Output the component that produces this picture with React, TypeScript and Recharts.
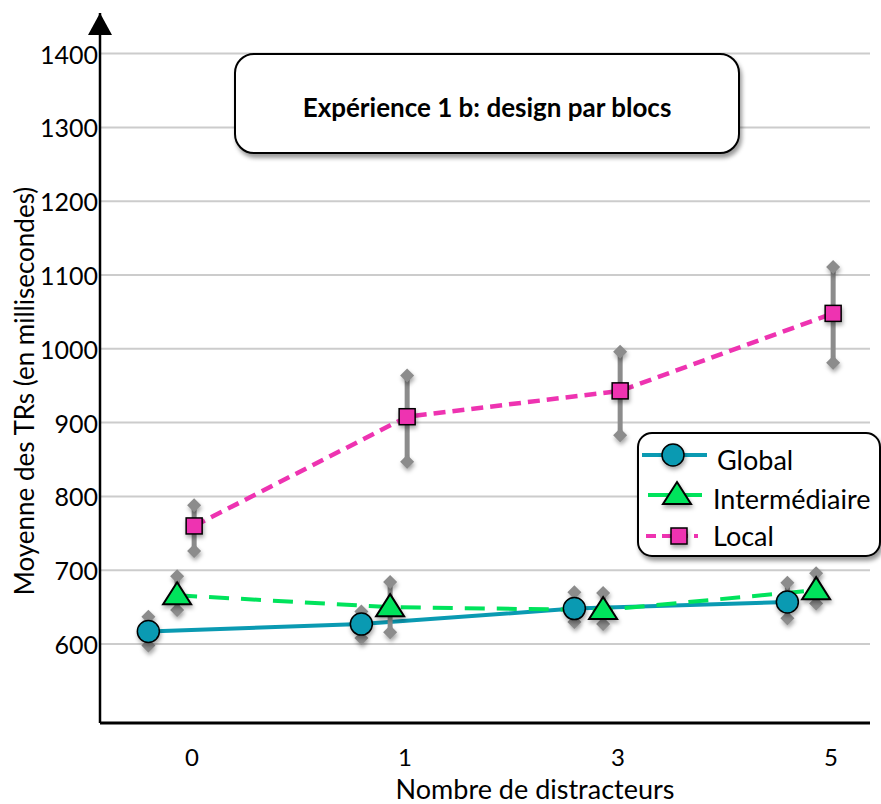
import React from "react";
import { ComposedChart, Line, Scatter, XAxis, YAxis, CartesianGrid } from "recharts";

// x categories (nombre de distracteurs)
const CATEGORIES = ["0", "1", "3", "5"];

// mean RTs (ms)
const GLOBAL = [617, 627, 648, 657];
const INTERMEDIAIRE = [666, 650, 646, 673];
const LOCAL = [760, 908, 943, 1048];

// error bar ends [low, high]
const GLOBAL_ERR = [[598, 637], [608, 644], [630, 670], [635, 683]];
const INTERMEDIAIRE_ERR = [[646, 692], [616, 684], [627, 669], [655, 696]];
const LOCAL_ERR = [[726, 788], [847, 964], [883, 996], [981, 1111]];

const Y_TICKS = [600, 700, 800, 900, 1000, 1100, 1200, 1300, 1400];

// horizontal shift of each series inside its category (in category units)
const OFF_GLOBAL = -0.205;
const OFF_INTER = -0.07;
const OFF_LOCAL = 0.01;

const FONT = "Lato, 'Open Sans', sans-serif";
const SHADOW = "drop-shadow(1px 3px 2px rgba(0,0,0,0.35))";
const C_GLOBAL = "#0A9AB2";
const C_INTER = "#00E35C";
const C_LOCAL = "#EE33B1";
const C_ERR = "#8C8C8C";

const toPoints = (vals: number[], off: number) => vals.map((y, i) => ({ x: i + off, y }));

const globalData = toPoints(GLOBAL, OFF_GLOBAL);
const interData = toPoints(INTERMEDIAIRE, OFF_INTER);
const localData = toPoints(LOCAL, OFF_LOCAL);

const errBars = [
  ...GLOBAL_ERR.map((e, i) => ({ x: i + OFF_GLOBAL, e })),
  ...INTERMEDIAIRE_ERR.map((e, i) => ({ x: i + OFF_INTER, e })),
  ...LOCAL_ERR.map((e, i) => ({ x: i + OFF_LOCAL, e })),
];

function Diamond(props: any) {
  const { cx, cy } = props;
  return (
    <path
      d={`M${cx},${cy - 7} L${cx + 7},${cy} L${cx},${cy + 7} L${cx - 7},${cy} Z`}
      fill={C_ERR}
      style={{ filter: SHADOW }}
    />
  );
}

function CircleMark({ cx, cy }: any) {
  return <circle cx={cx} cy={cy} r={11} fill={C_GLOBAL} stroke="#000" strokeWidth={1.5} style={{ filter: SHADOW }} />;
}

function TriangleMark({ cx, cy }: any) {
  return (
    <polygon
      points={`${cx},${cy - 13} ${cx + 14},${cy + 9} ${cx - 14},${cy + 9}`}
      fill={C_INTER}
      stroke="#000"
      strokeWidth={2}
      strokeLinejoin="miter"
      style={{ filter: SHADOW }}
    />
  );
}

function SquareMark({ cx, cy }: any) {
  return (
    <rect x={cx - 8} y={cy - 8} width={16} height={16} fill={C_LOCAL} stroke="#000" strokeWidth={1.5} style={{ filter: SHADOW }} />
  );
}

function XTick({ x, payload }: any) {
  return (
    <text x={x} y={766} textAnchor="middle" fontSize={24} fontFamily={FONT} fill="#000">
      {CATEGORIES[payload.value]}
    </text>
  );
}

function YTick({ y, payload }: any) {
  return (
    <text x={98} y={y} textAnchor="end" dominantBaseline="central" fontSize={25} fontFamily={FONT} fill="#000">
      {payload.value}
    </text>
  );
}

export default function App() {
  return (
    <div style={{ position: "absolute", left: 0, top: 0, width: 881, height: 804, background: "#fff", fontFamily: FONT }}>
      <ComposedChart width={881} height={804} margin={{ top: 13, right: 11, left: 0, bottom: 0 }}>
        <CartesianGrid horizontal vertical={false} horizontalValues={Y_TICKS} stroke="#CCCCCC" strokeWidth={2} />
        <XAxis
          type="number"
          dataKey="x"
          domain={[-0.432, 3.183]}
          ticks={[0, 1, 2, 3]}
          allowDataOverflow
          height={81}
          axisLine={{ stroke: "#000", strokeWidth: 3 }}
          tickLine={false}
          tick={<XTick />}
        />
        <YAxis
          type="number"
          dataKey="y"
          domain={[493, 1455]}
          ticks={Y_TICKS}
          allowDataOverflow
          width={100}
          axisLine={{ stroke: "#000", strokeWidth: 2.5 }}
          tickLine={false}
          tick={<YTick />}
        />
        {errBars.map((b, i) => (
          <Scatter
            key={`err-${i}`}
            data={[{ x: b.x, y: b.e[0] }, { x: b.x, y: b.e[1] }]}
            line={{ stroke: C_ERR, strokeWidth: 5 }}
            shape={<Diamond />}
            isAnimationActive={false}
          />
        ))}
        <Line
          data={globalData}
          dataKey="y"
          stroke={C_GLOBAL}
          strokeWidth={4}
          dot={(p: any) => <CircleMark key={`g-${p.index}`} cx={p.cx} cy={p.cy} />}
          activeDot={false}
          isAnimationActive={false}
        />
        <Line
          data={interData}
          dataKey="y"
          stroke={C_INTER}
          strokeWidth={4}
          strokeDasharray="20 12"
          dot={(p: any) => <TriangleMark key={`i-${p.index}`} cx={p.cx} cy={p.cy} />}
          activeDot={false}
          isAnimationActive={false}
        />
        <Line
          data={localData}
          dataKey="y"
          stroke={C_LOCAL}
          strokeWidth={4.5}
          strokeDasharray="12 7"
          dot={(p: any) => <SquareMark key={`l-${p.index}`} cx={p.cx} cy={p.cy} />}
          activeDot={false}
          isAnimationActive={false}
        />
      </ComposedChart>

      {/* title box */}
      <div
        style={{
          position: "absolute",
          left: 234,
          top: 53,
          width: 506,
          height: 101,
          boxSizing: "border-box",
          border: "2px solid #000",
          borderRadius: 20,
          background: "#fff",
          boxShadow: "2px 4px 4px rgba(0,0,0,0.4)",
          display: "flex",
          alignItems: "center",
          justifyContent: "center",
          fontWeight: 700,
          fontSize: 26,
          paddingTop: 6,
        }}
      >
        Expérience 1 b: design par blocs
      </div>

      {/* legend box */}
      <div
        style={{
          position: "absolute",
          left: 637,
          top: 432,
          width: 244,
          height: 125,
          boxSizing: "border-box",
          border: "2px solid #000",
          borderRadius: 15,
          background: "#fff",
          boxShadow: "2px 4px 4px rgba(0,0,0,0.4)",
        }}
      />

      <svg width={881} height={804} style={{ position: "absolute", left: 0, top: 0, pointerEvents: "none" }}>
        {/* axis arrow */}
        <polygon points="88,35 100,13 112,35" fill="#000" />

        {/* axis titles */}
        <text x={535} y={799} textAnchor="middle" fontSize={27} fontFamily={FONT} fill="#000">
          Nombre de distracteurs
        </text>
        <text
          x={34}
          y={391}
          transform="rotate(-90, 34, 391)"
          textAnchor="middle"
          fontSize={26}
          fontFamily={FONT}
          fill="#000"
        >
          Moyenne des TRs (en millisecondes)
        </text>

        {/* legend entries */}
        <line x1={642} y1={455} x2={707} y2={455} stroke={C_GLOBAL} strokeWidth={4} />
        <CircleMark cx={673} cy={455} />
        <text x={717} y={459} dominantBaseline="central" fontSize={27} fontFamily={FONT} fill="#000">Global</text>

        <line x1={648} y1={495} x2={702} y2={495} stroke={C_INTER} strokeWidth={4} />
        <TriangleMark cx={677} cy={495} />
        <text x={713} y={498} dominantBaseline="central" fontSize={27} fontFamily={FONT} fill="#000">Intermédiaire</text>

        <line x1={646} y1={536} x2={698} y2={536} stroke={C_LOCAL} strokeWidth={4} strokeDasharray="10 6" />
        <SquareMark cx={679} cy={536} />
        <text x={713} y={535} dominantBaseline="central" fontSize={27} fontFamily={FONT} fill="#000">Local</text>
      </svg>
    </div>
  );
}
